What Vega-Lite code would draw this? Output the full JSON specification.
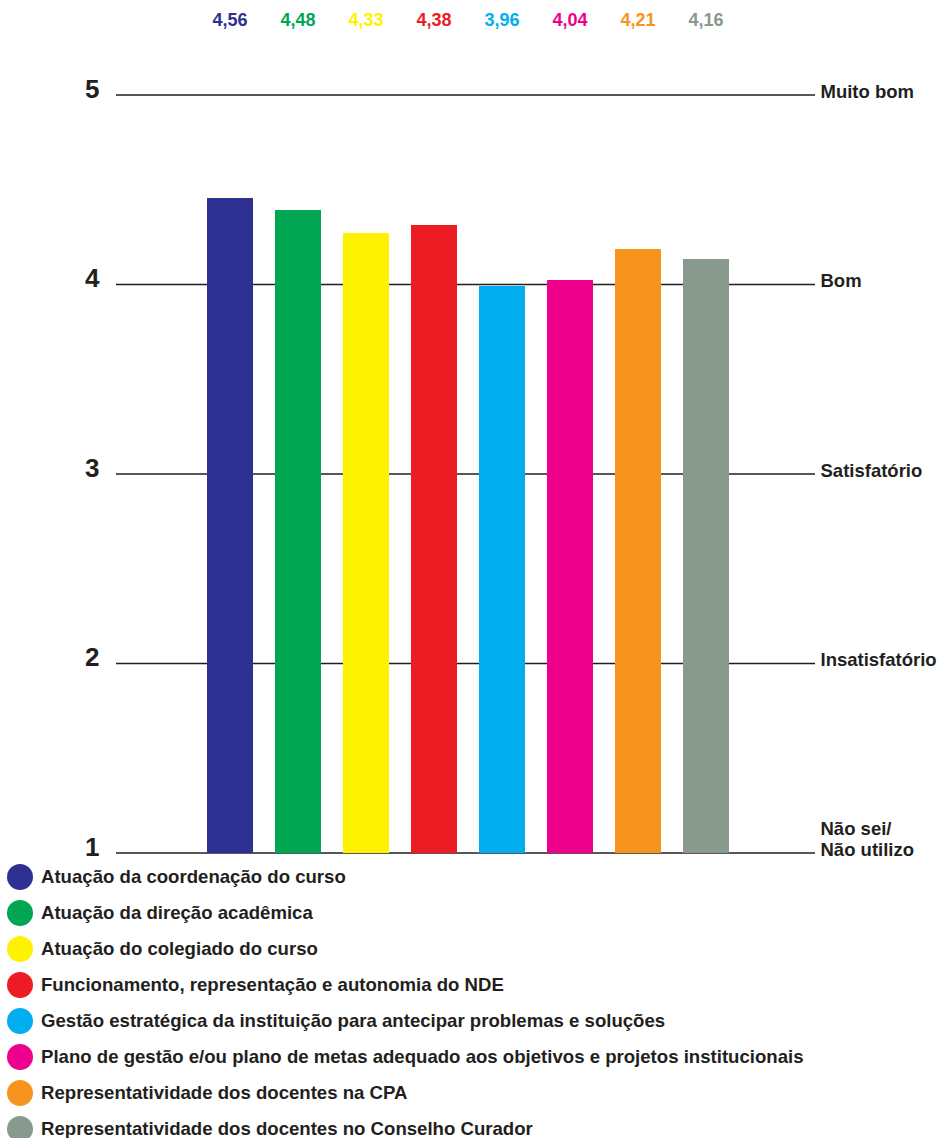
{
  "$schema": "https://vega.github.io/schema/vega-lite/v6.json",
  "width": 699,
  "height": 758,
  "autosize": "none",
  "padding": {"left": 116, "top": 95, "right": 132, "bottom": 285},
  "background": "white",
  "config": {
    "view": {"stroke": null},
    "locale": {"number": {"decimal": ",", "thousands": ".", "grouping": [3], "currency": ["R$", ""]}}
  },
  "datasets": {
    "notas": [
      {"item": "Atuação da coordenação do curso", "media": 4.56, "barra": 4.456},
      {"item": "Atuação da direção acadêmica", "media": 4.48, "barra": 4.393},
      {"item": "Atuação do colegiado do curso", "media": 4.33, "barra": 4.272},
      {"item": "Funcionamento, representação e autonomia do NDE", "media": 4.38, "barra": 4.314},
      {"item": "Gestão estratégica da instituição para antecipar problemas e soluções", "media": 3.96, "barra": 3.992},
      {"item": "Plano de gestão e/ou plano de metas adequado aos objetivos e projetos institucionais", "media": 4.04, "barra": 4.024},
      {"item": "Representatividade dos docentes na CPA", "media": 4.21, "barra": 4.187},
      {"item": "Representatividade dos docentes no Conselho Curador", "media": 4.16, "barra": 4.135}
    ],
    "niveis": [
      {"nivel": 1}, {"nivel": 2}, {"nivel": 3}, {"nivel": 4}, {"nivel": 5}
    ]
  },
  "layer": [
    {
      "data": {"name": "niveis"},
      "mark": {"type": "rule", "color": "#231f20", "strokeWidth": 1.3},
      "encoding": {
        "y": {
          "field": "nivel", "type": "quantitative",
          "scale": {"domain": [1, 5], "zero": false, "nice": false},
          "axis": null
        }
      }
    },
    {
      "data": {"name": "notas"},
      "mark": {"type": "bar"},
      "encoding": {
        "x": {
          "field": "item", "type": "nominal", "sort": null,
          "scale": {"range": [91, 613], "paddingInner": 0.3235, "paddingOuter": 0},
          "axis": null
        },
        "y": {
          "field": "barra", "type": "quantitative",
          "axis": {
            "values": [1, 2, 3, 4, 5], "format": "d", "title": null,
            "domain": false, "ticks": false, "grid": false,
            "labelFont": "Liberation Sans", "labelFontWeight": "bold",
            "labelFontSize": 26, "labelColor": "#231f20", "labelPadding": 17,
            "labelBaseline": "alphabetic", "labelOffset": 2
          }
        },
        "y2": {"datum": 1},
        "color": {
          "field": "item", "type": "nominal", "sort": null,
          "scale": {"range": ["#2e3192", "#00a651", "#fff200", "#ed1c24", "#00aeef", "#ec008c", "#f7941d", "#879a8d"]},
          "legend": {
            "title": null, "orient": "none", "legendX": -109, "legendY": 769,
            "symbolType": "circle", "symbolSize": 676, "symbolStrokeWidth": 0, "symbolOpacity": 1,
            "labelFont": "Liberation Sans", "labelFontWeight": "bold", "labelFontSize": 18.6,
            "labelColor": "#231f20", "labelOffset": 8, "labelLimit": 900, "rowPadding": 10
          }
        }
      }
    },
    {
      "data": {"name": "notas"},
      "mark": {"type": "text", "font": "Liberation Sans", "fontWeight": "bold", "fontSize": 18, "baseline": "middle"},
      "encoding": {
        "x": {"field": "item", "type": "nominal", "sort": null},
        "y": {
          "datum": 5.39, "type": "quantitative",
          "axis": {
            "orient": "right", "values": [1, 2, 3, 4, 5], "title": null,
            "domain": false, "ticks": false, "grid": false,
            "labelExpr": "datum.value == 5 ? 'Muito bom' : datum.value == 4 ? 'Bom' : datum.value == 3 ? 'Satisfatório' : datum.value == 2 ? 'Insatisfatório' : ['Não sei/', 'Não utilizo']",
            "labelFont": "Liberation Sans", "labelFontWeight": "bold", "labelFontSize": 18.5,
            "labelColor": "#231f20", "labelPadding": 5, "labelAlign": "left",
            "labelBaseline": "alphabetic",
            "labelOffset": {"condition": {"test": "datum.value == 1", "value": -19}, "value": 2},
            "labelLineHeight": 21
          }
        },
        "text": {"field": "media", "type": "quantitative", "format": ".2f"},
        "color": {"field": "item", "type": "nominal", "sort": null, "legend": null}
      }
    }
  ],
  "resolve": {"axis": {"y": "independent"}}
}
